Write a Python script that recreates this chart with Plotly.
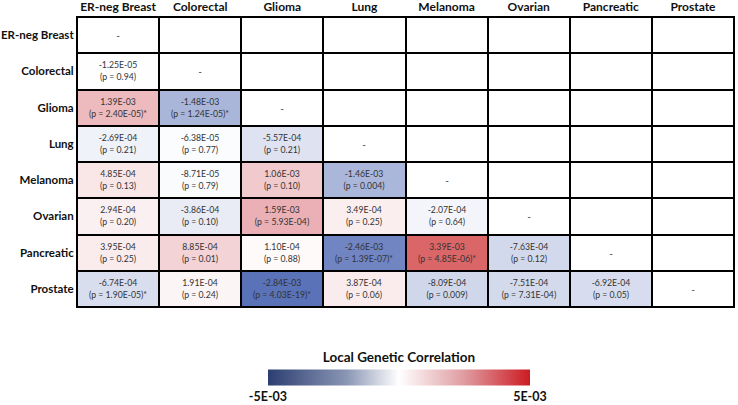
import plotly.graph_objects as go
import numpy as np

cancers = ["ER-neg Breast", "Colorectal", "Glioma", "Lung", "Melanoma",
           "Ovarian", "Pancreatic", "Prostate"]

# lower-triangle local genetic correlations, row by row (row i has i values)
rho_colorectal = [-1.25e-05]
rho_glioma = [1.39e-03, -1.48e-03]
rho_lung = [-2.69e-04, -6.38e-05, -5.57e-04]
rho_melanoma = [4.85e-04, -8.71e-05, 1.06e-03, -1.46e-03]
rho_ovarian = [2.94e-04, -3.86e-04, 1.59e-03, 3.49e-04, -2.07e-04]
rho_pancreatic = [3.95e-04, 8.85e-04, 1.10e-04, -2.46e-03, 3.39e-03, -7.63e-04]
rho_prostate = [-6.74e-04, 1.91e-04, -2.84e-03, 3.87e-04, -8.09e-04, -7.51e-04, -6.92e-04]

p_colorectal = ["0.94"]
p_glioma = ["2.40E-05*", "1.24E-05*"]
p_lung = ["0.21", "0.77", "0.21"]
p_melanoma = ["0.13", "0.79", "0.10", "0.004"]
p_ovarian = ["0.20", "0.10", "5.93E-04", "0.25", "0.64"]
p_pancreatic = ["0.25", "0.01", "0.88", "1.39E-07*", "4.85E-06*", "0.12"]
p_prostate = ["1.90E-05*", "0.24", "4.03E-19*", "0.06", "0.009", "7.31E-04", "0.05"]

rho_rows = [[], rho_colorectal, rho_glioma, rho_lung, rho_melanoma,
            rho_ovarian, rho_pancreatic, rho_prostate]
p_rows = [[], p_colorectal, p_glioma, p_lung, p_melanoma,
          p_ovarian, p_pancreatic, p_prostate]

scale_min, scale_max = -5e-03, 5e-03
scale_ticks = ["-5E-03", "5E-03"]

n = len(cancers)
z = np.full((n, n), np.nan)
txt = [["" for _ in range(n)] for _ in range(n)]
for i in range(n):
    for j, (v, p) in enumerate(zip(rho_rows[i], p_rows[i])):
        z[i, j] = v
        star = "*" if p.endswith("*") else ""
        txt[i][j] = f"{v:.2E}<br>(p = {p.rstrip('*')}){star}"

base_txt = [["-" if i == j else "" for j in range(n)] for i in range(n)]

vals = [v for r in rho_rows for v in r]
dmin, dmax = min(vals), max(vals)
mid = -dmin / (dmax - dmin)
cell_scale = [[0, "#5a72b8"], [mid, "#ffffff"],
              [mid + (1 - mid) * 0.45, "#ebb3b8"], [1, "#da6668"]]
bar_scale = [[0, "#2c3e72"], [0.3, "#8a96b4"], [0.5, "#ffffff"], [0.75, "#df9ba0"], [1, "#cc1b22"]]

idx = list(range(n))
font_family = "Lato, Open Sans, sans-serif"

fig = go.Figure()
fig.add_trace(go.Heatmap(
    x=idx, y=idx, z=np.zeros((n, n)),
    colorscale=[[0, "white"], [1, "white"]], showscale=False,
    xgap=2, ygap=2, text=base_txt, texttemplate="%{text}",
    textfont=dict(size=10, color="#333333", family=font_family),
    hoverinfo="skip"))
fig.add_trace(go.Heatmap(
    x=idx, y=idx, z=z, colorscale=cell_scale, zmin=dmin, zmax=dmax,
    showscale=False, xgap=2, ygap=2, text=txt, texttemplate="%{text}",
    textfont=dict(size=8.7, color="#333333", family=font_family),
    hoverongaps=False))
fig.add_trace(go.Scatter(
    x=[None], y=[None], mode="markers", showlegend=False,
    marker=dict(color=[scale_min, scale_max], cmin=scale_min, cmax=scale_max,
                colorscale=bar_scale, showscale=True,
                colorbar=dict(orientation="h", x=0.49, xanchor="center",
                              y=-0.24, yanchor="middle",
                              lenmode="pixels", len=282, thickness=16,
                              outlinewidth=0,
                              title=dict(text="<b>Local Genetic Correlation</b>",
                                         side="top",
                                         font=dict(size=13.5, color="#111111", family=font_family)),
                              tickvals=[scale_min, scale_max],
                              ticktext=[f"<b>{t}</b>" for t in scale_ticks],
                              ticks="", tickfont=dict(size=12.5, color="#111111", family=font_family)))))

fig.update_xaxes(tickvals=idx, ticktext=[f"<b>{c}</b>" for c in cancers], side="top",
                 range=[-0.5, n - 0.5], showgrid=False, zeroline=False, automargin=False,
                 tickfont=dict(size=12, color="#111111", family=font_family),
                 showline=True, linecolor="black", linewidth=1, mirror=True, ticks="",
                 ticklabelstandoff=0)
fig.update_yaxes(tickvals=idx, ticktext=[f"<b>{c}</b>" for c in cancers],
                 range=[n - 0.5, -0.5], showgrid=False, zeroline=False, automargin=False,
                 tickfont=dict(size=11.5, color="#111111", family=font_family),
                 showline=True, linecolor="black", linewidth=1, mirror=True, ticks="",
                 ticklabelstandoff=0)
fig.update_layout(width=738, height=405,
                  margin=dict(l=77, r=4, t=17, b=98, autoexpand=False),
                  plot_bgcolor="black", paper_bgcolor="white",
                  font=dict(family=font_family))
fig.write_html("out.html", config={"displayModeBar": False},
               post_script="document.body.style.margin='0';")
